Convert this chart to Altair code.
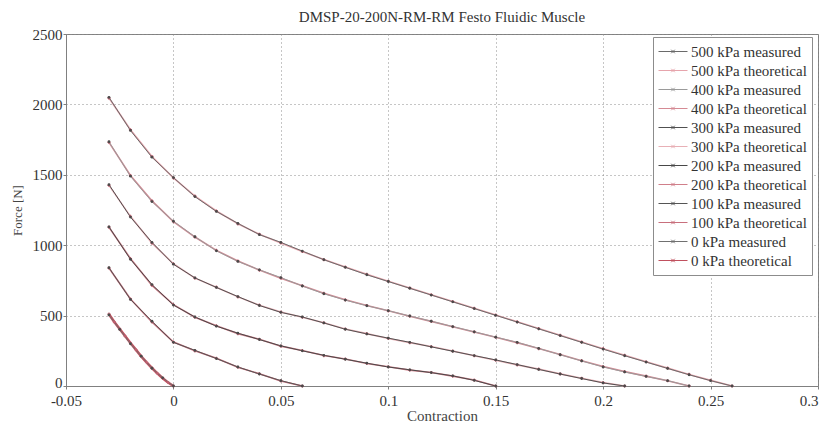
import altair as alt
import pandas as pd

# ---------------- data ----------------
x_ticks = [-0.05, 0, 0.05, 0.1, 0.15, 0.2, 0.25, 0.3]
y_ticks = [0, 500, 1000, 1500, 2000, 2500]

x_500 = [-0.03, -0.02, -0.01, 0.0, 0.01, 0.02, 0.03, 0.04, 0.05, 0.06, 0.07, 0.08, 0.09, 0.10, 0.11,
         0.12, 0.13, 0.14, 0.15, 0.16, 0.17, 0.18, 0.19, 0.20, 0.21, 0.22, 0.23, 0.24, 0.25, 0.26]
f_500_meas = [2050, 1815, 1625, 1480, 1345, 1240, 1155, 1075, 1020, 958, 897, 843, 790, 742, 694,
              646, 598, 550, 502, 454, 406, 358, 310, 262, 215, 170, 125, 80, 38, 0]
f_500_theo = [2045, 1820, 1630, 1478, 1348, 1243, 1152, 1078, 1016, 955, 898, 845, 793, 744, 696,
              648, 600, 552, 504, 456, 408, 360, 312, 265, 218, 172, 127, 82, 40, 0]

x_400 = [-0.03, -0.02, -0.01, 0.0, 0.01, 0.02, 0.03, 0.04, 0.05, 0.06, 0.07, 0.08, 0.09, 0.10, 0.11,
         0.12, 0.13, 0.14, 0.15, 0.16, 0.17, 0.18, 0.19, 0.20, 0.21, 0.22, 0.23, 0.24]
f_400_meas = [1735, 1490, 1310, 1170, 1060, 960, 885, 825, 770, 710, 655, 610, 570, 535, 497,
              460, 422, 385, 347, 310, 267, 222, 178, 135, 100, 68, 38, 0]
f_400_theo = [1730, 1495, 1315, 1168, 1058, 963, 888, 823, 766, 712, 658, 612, 572, 534, 496,
              459, 421, 384, 346, 308, 266, 223, 180, 138, 102, 70, 37, 0]

x_300 = [-0.03, -0.02, -0.01, 0.0, 0.01, 0.02, 0.03, 0.04, 0.05, 0.06, 0.07, 0.08, 0.09, 0.10, 0.11,
         0.12, 0.13, 0.14, 0.15, 0.16, 0.17, 0.18, 0.19, 0.20, 0.21]
f_300_meas = [1430, 1200, 1020, 865, 768, 700, 635, 572, 523, 490, 448, 403, 370, 340, 310,
              278, 247, 216, 185, 152, 118, 85, 53, 22, 0]
f_300_theo = [1425, 1205, 1015, 868, 766, 702, 633, 574, 525, 488, 449, 405, 372, 338, 308,
              280, 248, 215, 183, 150, 120, 86, 55, 24, 0]

x_200 = [-0.03, -0.02, -0.01, 0.0, 0.01, 0.02, 0.03, 0.04, 0.05, 0.06, 0.07, 0.08, 0.09, 0.10, 0.11,
         0.12, 0.13, 0.14, 0.15]
f_200_meas = [1130, 900, 720, 575, 490, 425, 375, 330, 285, 250, 218, 190, 162, 135, 115,
              95, 72, 40, 0]
f_200_theo = [1128, 905, 715, 578, 488, 428, 372, 332, 283, 252, 216, 192, 160, 137, 113,
              96, 70, 42, 0]

x_100 = [-0.03, -0.02, -0.01, 0.0, 0.01, 0.02, 0.03, 0.04, 0.05, 0.06]
f_100_meas = [840, 615, 460, 310, 253, 195, 135, 85, 38, 0]
f_100_theo = [838, 618, 455, 312, 250, 197, 133, 87, 36, 0]

x_0_meas = [-0.03, -0.025, -0.02, -0.015, -0.01, -0.005, 0.0]
f_0_meas = [505, 402, 300, 212, 126, 58, 0]
x_0_theo = [-0.03, -0.0275, -0.025, -0.0225, -0.02, -0.0175, -0.015, -0.0125, -0.01, -0.0075,
            -0.005, -0.0025, 0.0]
f_0_theo = [510, 455, 405, 355, 305, 258, 210, 168, 128, 90, 55, 25, 0]

series_names = ["500 kPa measured", "500 kPa theoretical", "400 kPa measured", "400 kPa theoretical",
                "300 kPa measured", "300 kPa theoretical", "200 kPa measured", "200 kPa theoretical",
                "100 kPa measured", "100 kPa theoretical", "0 kPa measured", "0 kPa theoretical"]
line_colors = ["#6a6a6a", "#e6a4ac", "#9a9a9a", "#d58a94", "#505050", "#e8b0b6",
               "#484848", "#d07f8a", "#555555", "#c86f7c", "#707070", "#c0505e"]

series_data = [
    (x_500, f_500_meas), (x_500, f_500_theo),
    (x_400, f_400_meas), (x_400, f_400_theo),
    (x_300, f_300_meas), (x_300, f_300_theo),
    (x_200, f_200_meas), (x_200, f_200_theo),
    (x_100, f_100_meas), (x_100, f_100_theo),
    (x_0_meas, f_0_meas), (x_0_theo, f_0_theo),
]

rows = []
for name, (xs, fs) in zip(series_names, series_data):
    kind = "measured" if name.endswith("measured") else "theoretical"
    for xv, fv in zip(xs, fs):
        rows.append({
            "x": xv, "F": fv, "series": name, "kind": kind,
            "sw": 2.6 if name == "0 kPa theoretical" else (1.6 if kind == "theoretical" else 1.0),
            "pcolor": "#4a4a4a" if kind == "measured" else "#c06070",
            "shp": "circle" if kind == "measured" else "cross",
        })
df = pd.DataFrame(rows)

FONT = "Liberation Serif"

xenc = alt.X("x:Q",
             scale=alt.Scale(domain=[-0.05, 0.3], nice=False, zero=False),
             axis=alt.Axis(values=x_ticks, title="Contraction", labelExpr="'' + datum.value",
                           labelFlush=False, labelOverlap=False, labelPadding=4,
                           labelAlign={"condition": {"test": "datum.value >= 0.29", "value": "right"},
                                       "value": "center"},
                           titlePadding=0))
yenc = alt.Y("F:Q",
             scale=alt.Scale(domain=[0, 2500], nice=False),
             axis=alt.Axis(values=y_ticks, title="Force [N]", labelExpr="'' + datum.value",
                           labelFlush=False, labelOverlap=False, labelPadding=1,
                           labelOffset={"condition": {"test": "datum.value == 0", "value": -4},
                                        "value": 0},
                           titlePadding=8, titleFontSize=13))
color = alt.Color("series:N",
                  scale=alt.Scale(domain=series_names, range=line_colors),
                  legend=alt.Legend(title=None, orient="none", legendX=587, legendY=3,
                                    symbolType="M-1,0L1,0M-0.12,-0.12L0.12,0.12M-0.12,0.12L0.12,-0.12",
                                    symbolSize=841, symbolStrokeWidth=1,
                                    labelFont=FONT, labelFontSize=15, labelColor="#333333",
                                    labelOffset=3, labelLimit=220,
                                    strokeColor="#8c8c8c", fillColor="white",
                                    padding=5, clipHeight=19, rowPadding=0))

base = alt.Chart(df)

theo_line = base.transform_filter(alt.datum.kind == "theoretical").mark_line().encode(
    x=xenc, y=yenc, color=color,
    strokeWidth=alt.StrokeWidth("sw:Q", scale=None), order="x:Q")
meas_line = base.transform_filter(alt.datum.kind == "measured").mark_line().encode(
    x=xenc, y=yenc, color=color,
    strokeWidth=alt.StrokeWidth("sw:Q", scale=None), order="x:Q")
theo_pts = base.transform_filter(alt.datum.kind == "theoretical").mark_point(
    filled=True, size=10, opacity=1).encode(
    x=xenc, y=yenc, color=alt.Color("pcolor:N", scale=None),
    shape=alt.Shape("shp:N", scale=None))
meas_pts = base.transform_filter(alt.datum.kind == "measured").mark_point(
    filled=True, size=8, opacity=1).encode(
    x=xenc, y=yenc, color=alt.Color("pcolor:N", scale=None),
    shape=alt.Shape("shp:N", scale=None))

chart = alt.layer(theo_line, meas_line, theo_pts, meas_pts).properties(
    width=752, height=352,
    autosize=alt.AutoSizeParams(type="none"),
    padding={"left": 58, "top": 26, "right": 3, "bottom": 40},
    title=alt.TitleParams("DMSP-20-200N-RM-RM Festo Fluidic Muscle", font=FONT, fontSize=15,
                          fontWeight="normal", color="#333333", offset=2),
    background="white",
).configure_view(
    stroke="#808080", strokeWidth=1
).configure_axis(
    domainColor="#808080", tickColor="#808080", tickSize=3,
    gridColor="#8c8c8c", gridDash=[1, 3], gridWidth=1,
    labelFont=FONT, labelFontSize=15, labelColor="#333333",
    titleFont=FONT, titleFontSize=15, titleColor="#444444", titleFontWeight="normal",
)

chart.save("out.html", embed_options={"renderer": "svg", "actions": False})
